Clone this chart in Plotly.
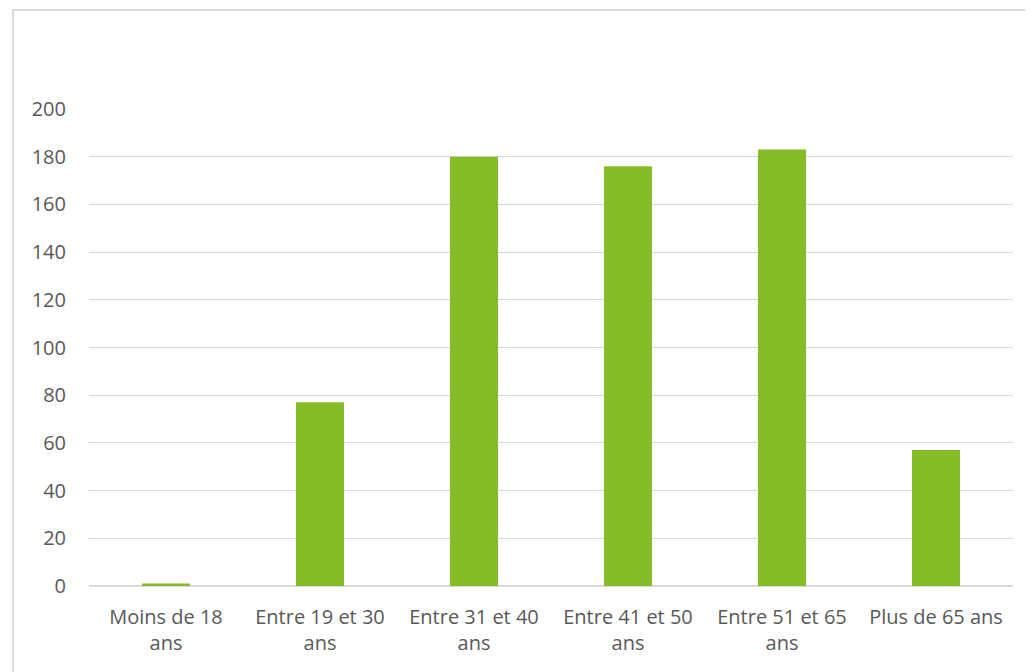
import plotly.graph_objects as go

categories = ["Moins de 18<br>ans", "Entre 19 et 30<br>ans", "Entre 31 et 40<br>ans",
              "Entre 41 et 50<br>ans", "Entre 51 et 65<br>ans", "Plus de 65 ans"]
values = [1, 77, 180, 176, 183, 57]
y_ticks = [0, 20, 40, 60, 80, 100, 120, 140, 160, 180, 200]

TEXT = "#595959"
GRID = "#D9D9D9"
FONT = "Open Sans"

fig = go.Figure(go.Bar(x=categories, y=values, marker_color="#85BC27",
                       marker_line_width=0, hoverinfo="skip"))

fig.update_layout(
    width=1025, height=664,
    margin=dict(l=81, r=20, t=101, b=86),
    paper_bgcolor="white", plot_bgcolor="white",
    bargap=0.688,
    showlegend=False,
    font=dict(family=FONT, size=20, color=TEXT),
    shapes=[dict(type="rect", xref="paper", yref="paper",
                 x0=-0.0823, x1=1.05, y0=-0.25, y1=1.2075,
                 line=dict(color=GRID, width=2), fillcolor="rgba(0,0,0,0)", layer="below")],
)
fig.update_xaxes(showgrid=False, showline=False, zeroline=False, ticks="",
                 tickfont=dict(family=FONT, size=20, color=TEXT), ticklabelstandoff=17)
fig.update_yaxes(range=[0, 200], tickvals=y_ticks, showgrid=True, gridcolor=GRID, gridwidth=1,
                 zeroline=True, zerolinecolor=GRID, zerolinewidth=1.5, showline=False, ticks="",
                 tickfont=dict(family=FONT, size=20, color=TEXT), ticklabelstandoff=22)

fig.write_html("out.html")
